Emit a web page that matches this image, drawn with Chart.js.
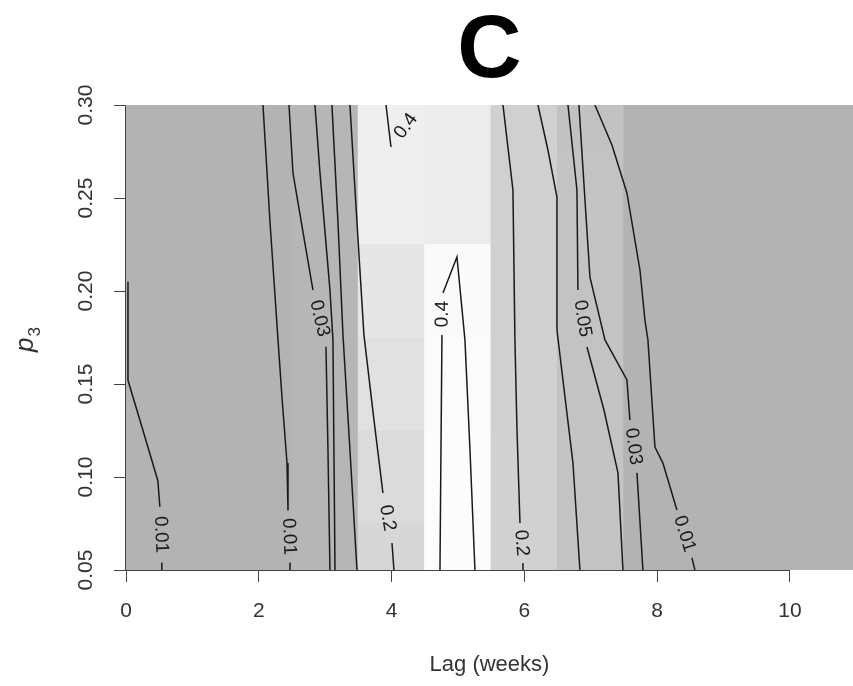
<!DOCTYPE html>
<html>
<head>
<meta charset="utf-8">
<title>C</title>
<script src="https://cdn.jsdelivr.net/npm/chart.js@4.4.0/dist/chart.umd.min.js"></script>
<style>
  html, body { margin: 0; padding: 0; background: #fff; }
  #wrap { width: 853px; height: 686px; position: relative; }
</style>
</head>
<body>
<div id="wrap"><canvas id="lagChart"></canvas></div>
<script>
// image columns (lag, weeks) and rows (p3)
const lagWeeks = [0, 1, 2, 3, 4, 5, 6, 7, 8, 9, 10, 11];
const p3Rows = [0.05, 0.10, 0.15, 0.20, 0.25, 0.30];

// estimated probability per cell, one row per p3 value
const probGrid = [
  [0.003, 0.003, 0.003, 0.012, 0.21, 0.50, 0.165, 0.055, 0.003, 0.003, 0.003, 0.003],
  [0.003, 0.003, 0.003, 0.012, 0.24, 0.50, 0.165, 0.055, 0.003, 0.003, 0.003, 0.003],
  [0.003, 0.003, 0.003, 0.012, 0.28, 0.49, 0.165, 0.055, 0.003, 0.003, 0.003, 0.003],
  [0.003, 0.003, 0.003, 0.012, 0.31, 0.48, 0.160, 0.055, 0.003, 0.003, 0.003, 0.003],
  [0.003, 0.003, 0.003, 0.012, 0.38, 0.35, 0.160, 0.055, 0.003, 0.003, 0.003, 0.003],
  [0.003, 0.003, 0.003, 0.012, 0.38, 0.35, 0.160, 0.050, 0.003, 0.003, 0.003, 0.003]
];

const xTicks = [0, 2, 4, 6, 8, 10];
const yTicks = [0.05, 0.10, 0.15, 0.20, 0.25, 0.30];

// contour lines as [lag, p3]; null = gap where the label sits
const c001Edge = [[0.03, 0.205], [0.03, 0.152], [0.256, 0.125], [0.48, 0.098], [0.51, 0.084], null, [0.54, 0.054], [0.54, 0.05]];
const c001Left = [[2.063, 0.30], [2.169, 0.237], [2.289, 0.174], [2.349, 0.143], [2.425, 0.1075], [2.44, 0.082], null, [2.47, 0.054], [2.47, 0.05]];
const c003Left = [[2.455, 0.30], [2.515, 0.2634], [2.666, 0.2317], [2.816, 0.2005], null, [3.012, 0.170], [3.042, 0.1145], [3.072, 0.05]];
const c005Left = [[2.846, 0.30], [2.922, 0.2634], [3.072, 0.2005], [3.117, 0.1737], [3.148, 0.05]];
const c01Left = [[3.102, 0.30], [3.193, 0.2366], [3.268, 0.1763], [3.373, 0.1145], [3.479, 0.05]];
const c02Left = [[3.373, 0.30], [3.449, 0.2543], [3.584, 0.1763], [3.735, 0.1306], [3.87, 0.0914], null, [4.006, 0.0645], [4.036, 0.05]];
const c04Top = [[3.916, 0.30], [3.991, 0.2774], null, [4.443, 0.30]];
const c04Peak = [[4.729, 0.05], [4.744, 0.1145], [4.759, 0.1763], null, [4.774, 0.1989], [4.985, 0.2183], [5.105, 0.1737], [5.181, 0.1145], [5.256, 0.05]];
const c02Right = [[5.678, 0.30], [5.828, 0.2543], [5.858, 0.1737], [5.889, 0.1253], [5.934, 0.0753], null, [5.979, 0.0538], [5.979, 0.05]];
const c01Right = [[6.205, 0.30], [6.355, 0.2758], [6.491, 0.2505], [6.491, 0.179], [6.581, 0.1522], [6.732, 0.1075], [6.837, 0.05]];
const c005Right = [[6.657, 0.30], [6.792, 0.2543], [6.807, 0.2005], null, [6.943, 0.1699], [7.199, 0.136], [7.41, 0.1022], [7.485, 0.05]];
const c003Right = [[6.822, 0.30], [6.913, 0.2489], [6.988, 0.2075], [7.214, 0.1737], [7.545, 0.1522], [7.59, 0.1306], null, [7.696, 0.1022], [7.786, 0.05]];
const c001Right = [[7.063, 0.30], [7.319, 0.2785], [7.545, 0.2527], [7.741, 0.2113], [7.816, 0.1844], [7.861, 0.1737], [7.967, 0.1161], [8.087, 0.1075], [8.298, 0.0823], null, [8.524, 0.0565], [8.569, 0.05]];

const contours = [
  { label: '0.01', pts: c001Edge },
  { label: '0.01', pts: c001Left },
  { label: '0.03', pts: c003Left },
  { label: '', pts: c005Left },
  { label: '', pts: c01Left },
  { label: '0.2', pts: c02Left },
  { label: '0.4', pts: c04Top },
  { label: '0.4', pts: c04Peak },
  { label: '0.2', pts: c02Right },
  { label: '', pts: c01Right },
  { label: '0.05', pts: c005Right },
  { label: '0.03', pts: c003Right },
  { label: '0.01', pts: c001Right }
];

// grey scale used for the image cells
const greyStops = [[0, 178], [0.02, 184], [0.05, 194], [0.15, 207], [0.25, 220], [0.35, 236], [0.5, 252]];
function greyFor(v) {
  let g = greyStops[greyStops.length - 1][1];
  for (let i = 1; i < greyStops.length; i++) {
    const [v0, g0] = greyStops[i - 1], [v1, g1] = greyStops[i];
    if (v <= v1) { g = g0 + (g1 - g0) * Math.max(0, v - v0) / (v1 - v0); break; }
  }
  g = Math.round(g);
  return 'rgb(' + g + ',' + g + ',' + g + ')';
}

function toPoints(pts) {
  return pts.map((p, i) => p ? { x: p[0], y: p[1] } : { x: pts[i - 1][0], y: null });
}

const FONT = '"Liberation Sans", Arial, Helvetica, sans-serif';
Chart.defaults.font.family = FONT;

const halfRow = (p3Rows[1] - p3Rows[0]) / 2;
const cellSets = p3Rows.map((p, r) => ({
  type: 'bar',
  data: lagWeeks.map(x => ({ x: x, y: [p - halfRow, p + halfRow] })),
  backgroundColor: probGrid[r].map(greyFor),
  borderWidth: 0,
  inflateAmount: 0.6,
  grouped: false,
  barPercentage: 1,
  categoryPercentage: 1,
  order: 2
}));

const lineSets = contours.map(c => ({
  type: 'line',
  data: toPoints(c.pts),
  borderColor: '#1a1a1a',
  borderWidth: 1.5,
  pointRadius: 0,
  tension: 0,
  spanGaps: false,
  order: 1
}));

// contour labels, rotated along the line like R's contour()
const contourLabels = {
  id: 'contourLabels',
  afterDatasetsDraw(chart) {
    const { ctx, scales: { x, y } } = chart;
    ctx.save();
    ctx.font = '19px ' + FONT;
    ctx.fillStyle = '#1a1a1a';
    ctx.textAlign = 'center';
    ctx.textBaseline = 'middle';
    contours.forEach(c => {
      const gap = c.pts.indexOf(null);
      if (!c.label || gap < 1) return;
      const a = c.pts[gap - 1], b = c.pts[gap + 1];
      const ax = x.getPixelForValue(a[0]), ay = y.getPixelForValue(a[1]);
      const bx = x.getPixelForValue(b[0]), by = y.getPixelForValue(b[1]);
      let ang = Math.atan2(by - ay, bx - ax);
      if (ang > Math.PI / 2) ang -= Math.PI;
      if (ang < -Math.PI / 2) ang += Math.PI;
      ctx.save();
      ctx.translate((ax + bx) / 2, (ay + by) / 2);
      ctx.rotate(ang);
      ctx.fillText(c.label, 0, 0);
      ctx.restore();
    });
    ctx.restore();
  }
};

// R style axis lines (first to last tick) and the p3 axis title
const axisExtras = {
  id: 'axisExtras',
  afterDraw(chart) {
    const { ctx, chartArea, scales: { x, y } } = chart;
    ctx.save();
    ctx.strokeStyle = '#444';
    ctx.lineWidth = 1;
    ctx.beginPath();
    const lx = Math.round(chartArea.left) - 0.5;
    ctx.moveTo(lx, y.getPixelForValue(yTicks[0]));
    ctx.lineTo(lx, y.getPixelForValue(yTicks[yTicks.length - 1]));
    const by = Math.round(chartArea.bottom) + 0.5;
    ctx.moveTo(x.getPixelForValue(xTicks[0]), by);
    ctx.lineTo(x.getPixelForValue(xTicks[xTicks.length - 1]), by);
    ctx.stroke();

    ctx.fillStyle = '#333';
    ctx.translate(33, 352);
    ctx.rotate(-Math.PI / 2);
    ctx.textBaseline = 'alphabetic';
    ctx.textAlign = 'left';
    ctx.font = 'italic 26px ' + FONT;
    ctx.fillText('p', 0, 0);
    const wp = ctx.measureText('p').width;
    ctx.font = '17px ' + FONT;
    ctx.fillText('3', wp + 1, 7);
    ctx.restore();
  }
};

new Chart(document.getElementById('lagChart'), {
  type: 'bar',
  data: { datasets: cellSets.concat(lineSets) },
  options: {
    responsive: true,
    maintainAspectRatio: false,
    animation: false,
    layout: { padding: 0 },
    plugins: {
      legend: { display: false },
      tooltip: { enabled: false },
      title: {
        display: true,
        text: 'C',
        fullSize: false,
        color: '#000',
        font: { size: 89, weight: 'bold', lineHeight: 1 },
        padding: { top: 8, bottom: 8 }
      }
    },
    scales: {
      x: {
        type: 'linear',
        min: 0,
        max: 10.95,
        offset: false,
        afterBuildTicks: s => { s.ticks = xTicks.map(v => ({ value: v })); },
        afterFit: s => { s.height = 116; },
        ticks: { padding: 17, color: '#333', font: { size: 21 }, maxRotation: 0 },
        grid: { offset: false, drawOnChartArea: false, tickLength: 12, color: '#444' },
        border: { display: false },
        title: { display: true, text: 'Lag (weeks)', color: '#333', font: { size: 22 }, padding: { top: 0, bottom: 8 } }
      },
      y: {
        type: 'linear',
        min: 0.05,
        max: 0.30,
        afterBuildTicks: s => { s.ticks = yTicks.map(v => ({ value: v })); },
        afterFit: s => { s.width = 126; },
        ticks: {
          minRotation: 90,
          maxRotation: 90,
          crossAlign: 'center',
          padding: 7,
          color: '#333',
          font: { size: 21 },
          callback: v => v.toFixed(2)
        },
        grid: { drawOnChartArea: false, tickLength: 12, color: '#444' },
        border: { display: false }
      }
    }
  },
  plugins: [contourLabels, axisExtras]
});
</script>
</body>
</html>
